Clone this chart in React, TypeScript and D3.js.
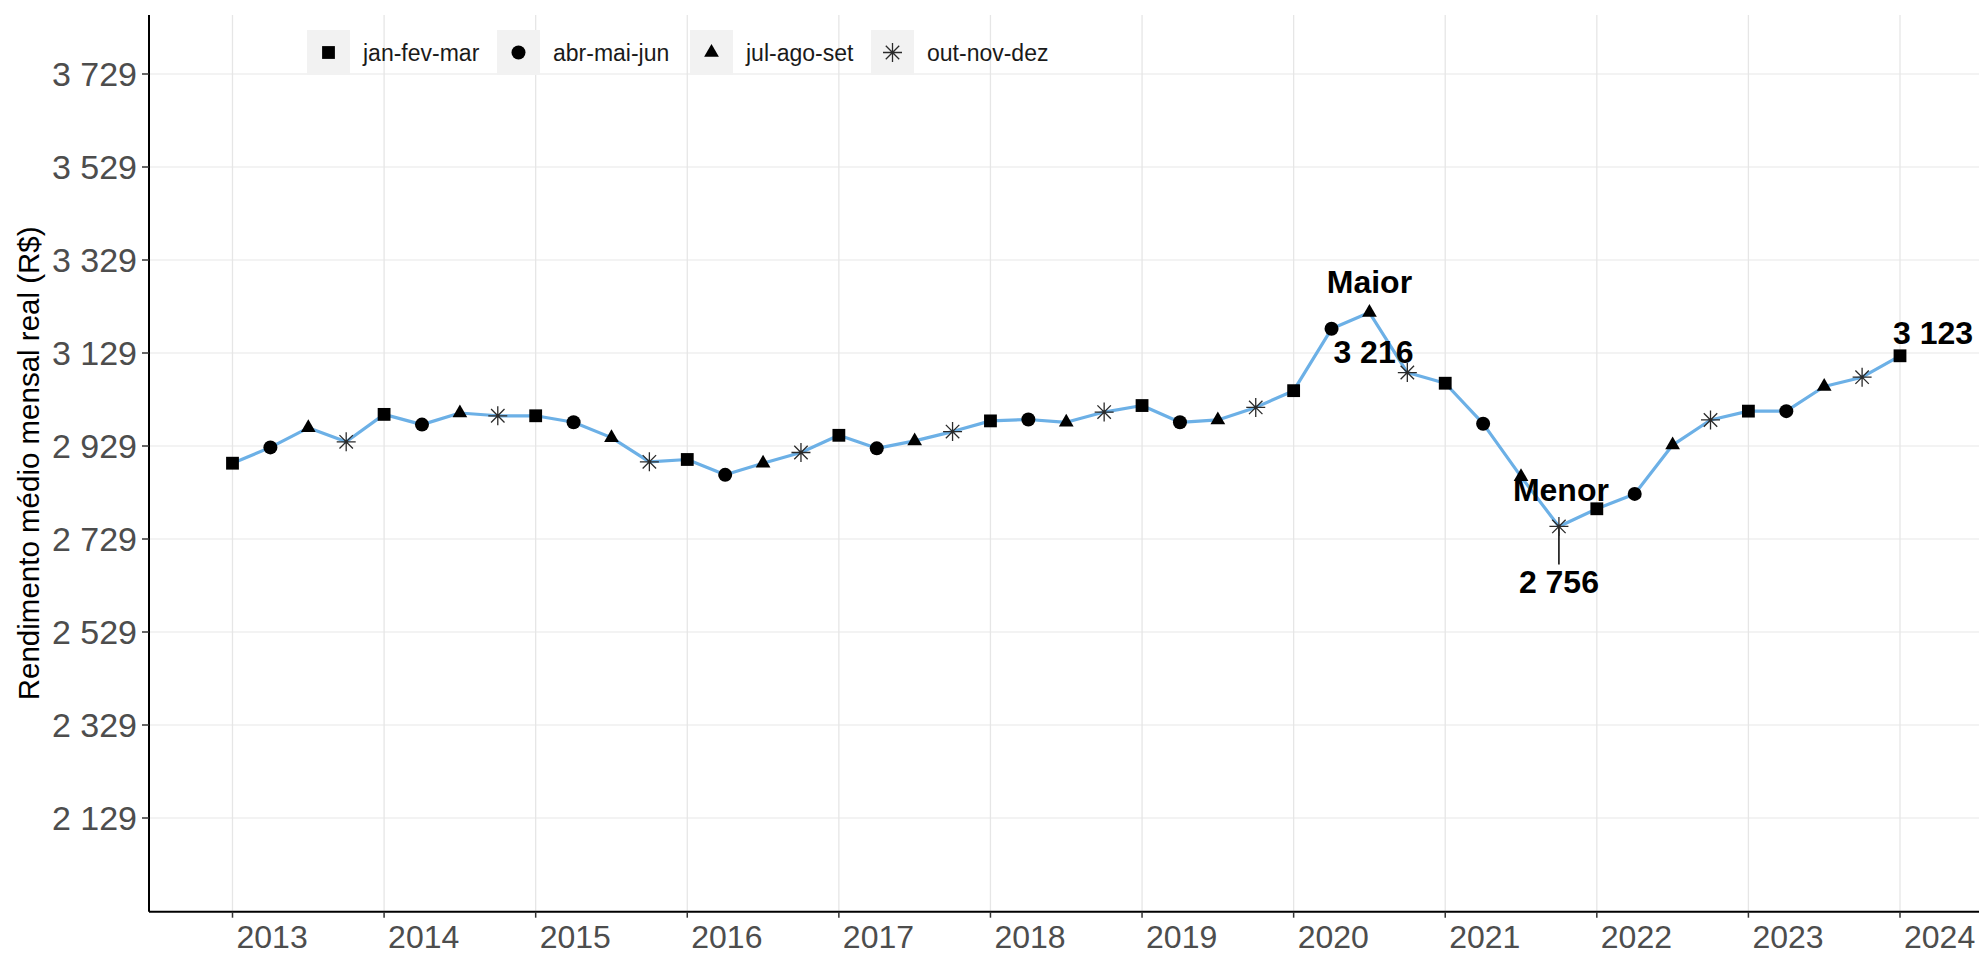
import React from "react";
import * as d3 from "d3";

const yearTicks = [2013, 2014, 2015, 2016, 2017, 2018, 2019, 2020, 2021, 2022, 2023, 2024];
const yTicks = [2129, 2329, 2529, 2729, 2929, 3129, 3329, 3529, 3729];
const quarterNames = ["jan-fev-mar", "abr-mai-jun", "jul-ago-set", "out-nov-dez"];
const startYear = 2013;
const values = [
  2892, 2926, 2968, 2938,
  2997, 2975, 3000, 2994,
  2994, 2980, 2947, 2895,
  2900, 2867, 2892, 2915,
  2952, 2924, 2940, 2960,
  2983, 2986, 2980, 3002,
  3016, 2980, 2985, 3012,
  3048, 3181, 3216, 3087,
  3064, 2977, 2863, 2756,
  2794, 2826, 2931, 2985,
  3004, 3004, 3057, 3077,
  3123,
];
const yTitle = "Rendimento médio mensal real (R$)";
const maxText = "Maior";
const minText = "Menor";

const W = 1979;
const H = 954;
const FONT = "'Liberation Sans', Arial, Helvetica, sans-serif";

const fmt = d3.formatLocale({ decimal: ",", thousands: " ", grouping: [3], currency: ["R$", ""] }).format(",d");

function Marker({ kind, cx, cy }: { kind: number; cx: number; cy: number }) {
  if (kind === 0) {
    return <rect x={cx - 6.4} y={cy - 6.4} width={12.8} height={12.8} fill="#000" />;
  }
  if (kind === 1) {
    return <circle cx={cx} cy={cy} r={7} fill="#000" />;
  }
  if (kind === 2) {
    const r = 8.5;
    const pts = [
      [cx, cy - r],
      [cx + r * Math.cos(Math.PI / 6), cy + r / 2],
      [cx - r * Math.cos(Math.PI / 6), cy + r / 2],
    ];
    return <polygon points={pts.map((p) => p.join(",")).join(" ")} fill="#000" />;
  }
  const a = 9.5;
  const d = a / Math.SQRT2;
  const p =
    `M${cx - a},${cy}L${cx + a},${cy}M${cx},${cy - a}L${cx},${cy + a}` +
    `M${cx - d},${cy - d}L${cx + d},${cy + d}M${cx - d},${cy + d}L${cx + d},${cy - d}`;
  return <path d={p} stroke="#2a2a2a" strokeWidth={1.3} fill="none" />;
}

export default function App() {
  const x = d3.scaleLinear().domain([2013, 2024]).range([232.5, 1900]);
  const y = d3.scaleLinear().domain([2129, 3729]).range([818, 74]);
  const panelLeft = 149;
  const panelTop = y(y.invert(15));
  const panelBottom = 911.7;

  const pts = values.map((v, i) => ({ t: startYear + i / 4, v, q: i % 4 }));
  const line = d3
    .line<{ t: number; v: number }>()
    .x((d) => x(d.t))
    .y((d) => y(d.v));

  const maxI = d3.maxIndex(values);
  const minI = d3.minIndex(values);
  const lastI = values.length - 1;
  const pMax = pts[maxI];
  const pMin = pts[minI];
  const pLast = pts[lastI];

  const legendKeyX = [307, 497, 690, 871];

  return (
    <svg
      width={W}
      height={H}
      style={{ position: "absolute", left: 0, top: 0, background: "#fff" }}
      fontFamily={FONT}
    >
      <rect x={0} y={0} width={W} height={H} fill="#fff" />
      {/* grid */}
      {yTicks.map((t) => (
        <line key={"gy" + t} x1={panelLeft} x2={W} y1={y(t)} y2={y(t)} stroke="#EFEFEF" strokeWidth={1.5} />
      ))}
      {yearTicks.map((t) => (
        <line key={"gx" + t} x1={x(t)} x2={x(t)} y1={panelTop} y2={panelBottom} stroke="#E6E6E6" strokeWidth={1.3} />
      ))}

      {/* legend */}
      {quarterNames.map((name, i) => (
        <g key={name}>
          <rect x={legendKeyX[i]} y={30} width={43} height={45} fill="#F2F2F2" />
          <Marker kind={i} cx={legendKeyX[i] + 21.5} cy={52.5} />
          <text x={legendKeyX[i] + 56} y={60.5} fontSize={23} fill="#1a1a1a">
            {name}
          </text>
        </g>
      ))}

      {/* line */}
      <path d={line(pts) || ""} fill="none" stroke="#6CB0E6" strokeWidth={3.2} strokeLinejoin="round" />

      {/* min segment */}
      <line x1={x(pMin.t)} x2={x(pMin.t)} y1={y(pMin.v)} y2={y(pMin.v) + 38} stroke="#000" strokeWidth={1.5} />

      {/* markers */}
      {pts.map((p, i) => (
        <Marker key={i} kind={p.q} cx={x(p.t)} cy={y(p.v)} />
      ))}

      {/* annotations */}
      <g fontWeight="bold" fontSize={32} fill="#000">
        <text x={x(pMax.t)} y={y(pMax.v) - 20} textAnchor="middle">{maxText}</text>
        <text x={x(pMax.t) + 4} y={y(pMax.v) + 50} textAnchor="middle">{fmt(pMax.v)}</text>
        <text x={x(pMin.t) + 2} y={y(pMin.v) - 25} textAnchor="middle">{minText}</text>
        <text x={x(pMin.t)} y={y(pMin.v) + 67} textAnchor="middle">{fmt(pMin.v)}</text>
        <text x={x(pLast.t) - 7} y={y(pLast.v) - 12} textAnchor="start">{fmt(pLast.v)}</text>
      </g>

      {/* axes */}
      <line x1={panelLeft} x2={panelLeft} y1={panelTop} y2={panelBottom} stroke="#000" strokeWidth={2} />
      <line x1={panelLeft} x2={W} y1={panelBottom} y2={panelBottom} stroke="#000" strokeWidth={2} />
      {yTicks.map((t) => (
        <g key={"yt" + t}>
          <line x1={panelLeft - 7} x2={panelLeft} y1={y(t)} y2={y(t)} stroke="#333" strokeWidth={1.5} />
          <text x={137} y={y(t) + 12} textAnchor="end" fontSize={34} fill="#4D4D4D">
            {fmt(t)}
          </text>
        </g>
      ))}
      {yearTicks.map((t) => (
        <g key={"xt" + t}>
          <line x1={x(t)} x2={x(t)} y1={panelBottom} y2={panelBottom + 6} stroke="#333" strokeWidth={1.5} />
          <text x={x(t) + 4} y={948} textAnchor="start" fontSize={32} fill="#4D4D4D">
            {String(t)}
          </text>
        </g>
      ))}

      {/* y title */}
      <text
        transform={`translate(39, ${(panelTop + panelBottom) / 2}) rotate(-90)`}
        textAnchor="middle"
        fontSize={29.5}
        fill="#000"
      >
        {yTitle}
      </text>
    </svg>
  );
}
